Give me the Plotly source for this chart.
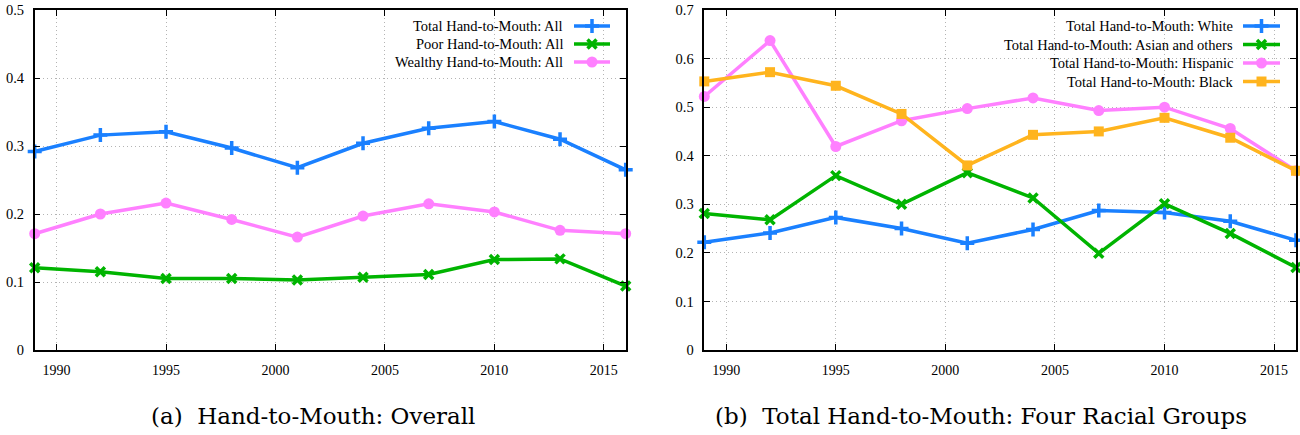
import plotly.graph_objects as go

# ---------------- data ----------------
years = [1989, 1992, 1995, 1998, 2001, 2004, 2007, 2010, 2013, 2016]

total_all = [0.292, 0.316, 0.321, 0.297, 0.268, 0.304, 0.326, 0.336, 0.310, 0.265]
poor_all = [0.121, 0.115, 0.105, 0.105, 0.103, 0.107, 0.111, 0.133, 0.134, 0.094]
wealthy_all = [0.171, 0.200, 0.216, 0.192, 0.166, 0.197, 0.215, 0.203, 0.176, 0.171]

white = [0.222, 0.241, 0.273, 0.250, 0.220, 0.248, 0.287, 0.283, 0.265, 0.226]
asian = [0.281, 0.268, 0.359, 0.300, 0.365, 0.313, 0.199, 0.301, 0.240, 0.170]
hispanic = [0.522, 0.637, 0.419, 0.472, 0.497, 0.519, 0.493, 0.500, 0.456, 0.369]
black = [0.553, 0.572, 0.544, 0.486, 0.380, 0.443, 0.450, 0.478, 0.437, 0.369]

x_ticks = [1990, 1995, 2000, 2005, 2010, 2015]

left_names = ["Total Hand-to-Mouth: All", "Poor Hand-to-Mouth: All",
              "Wealthy Hand-to-Mouth: All"]
right_names = ["Total Hand-to-Mouth: White", "Total Hand-to-Mouth: Asian and others",
               "Total Hand-to-Mouth: Hispanic", "Total Hand-to-Mouth: Black"]
captions = ["(a)\u00a0 Hand-to-Mouth: Overall",
            "(b)\u00a0 Total Hand-to-Mouth: Four Racial Groups"]

# ---------------- styles ----------------
W, H = 1300, 435
BLUE, GREEN, PINK, ORANGE = "#1a80ff", "#00b400", "#ff80ff", "#ffb41e"
SERIF = "Liberation Serif"
CAPFONT = "DejaVu Serif"
LW = 3.5
GRID = dict(showgrid=True, gridcolor="#b4b4b4", griddash="1px,3px", gridwidth=1)

def marker(kind, color):
    if kind == "plus":
        return dict(symbol="cross-thin", size=10, color=color, line=dict(width=3.5, color=color))
    if kind == "x":
        return dict(symbol="x-thin", size=9, color=color, line=dict(width=3.5, color=color))
    if kind == "circle":
        return dict(symbol="circle", size=11, color=color, line=dict(width=0))
    return dict(symbol="square", size=10, color=color, line=dict(width=0))

left_series = [(total_all, BLUE, "plus"), (poor_all, GREEN, "x"), (wealthy_all, PINK, "circle")]
right_series = [(white, BLUE, "plus"), (asian, GREEN, "x"),
                (hispanic, PINK, "circle"), (black, ORANGE, "square")]

fig = go.Figure()

for (vals, col, mk), name in zip(left_series, left_names):
    fig.add_trace(go.Scatter(x=years, y=vals, mode="lines+markers", name=name,
                             line=dict(color=col, width=LW), marker=marker(mk, col),
                             cliponaxis=False, xaxis="x", yaxis="y", showlegend=False))
for (vals, col, mk), name in zip(right_series, right_names):
    fig.add_trace(go.Scatter(x=years, y=vals, mode="lines+markers", name=name,
                             line=dict(color=col, width=LW), marker=marker(mk, col),
                             cliponaxis=False, xaxis="x2", yaxis="y2", showlegend=False))

# ---------------- legend (drawn in a pixel overlay axis) ----------------
legend_specs = [
    # text right edge, sample x0, sample x1, row y positions
    (565, 574, 610, [26, 44, 62], left_series, left_names),
    (1235, 1243, 1280, [26, 44.5, 63, 81.5], right_series, right_names),
]
annotations = []
for tx, sx0, sx1, rows, series, names in legend_specs:
    for (vals, col, mk), name, ry in zip(series, names, rows):
        fig.add_trace(go.Scatter(x=[sx0, sx1], y=[ry, ry], mode="lines",
                                 line=dict(color=col, width=LW), xaxis="x3", yaxis="y3",
                                 showlegend=False, hoverinfo="skip", cliponaxis=False))
        fig.add_trace(go.Scatter(x=[(sx0 + sx1) / 2], y=[ry], mode="markers",
                                 marker=marker(mk, col), xaxis="x3", yaxis="y3",
                                 showlegend=False, hoverinfo="skip", cliponaxis=False))
        annotations.append(dict(x=tx / W, y=1 - ry / H, xref="paper", yref="paper",
                                text=name, showarrow=False, xanchor="right", yanchor="middle",
                                font=dict(family=SERIF, size=14.5, color="black")))

annotations.append(dict(x=149 / W, y=1 - 416 / H, xref="paper", yref="paper", text=captions[0],
                        showarrow=False, xanchor="left", yanchor="middle",
                        font=dict(family=CAPFONT, size=23, color="black")))
annotations.append(dict(x=713 / W, y=1 - 416 / H, xref="paper", yref="paper", text=captions[1],
                        showarrow=False, xanchor="left", yanchor="middle",
                        font=dict(family=CAPFONT, size=23, color="black")))

def xax(domain):
    return dict(domain=domain, range=[1989, 2016], tickvals=x_ticks, ticks="inside",
                ticklen=6, tickwidth=1.3, tickcolor="black", showline=True, linecolor="black",
                linewidth=1.5, mirror="ticks", zeroline=False, automargin=False,
                tickfont=dict(family=SERIF, size=14, color="black"), ticklabelstandoff=6,
                **GRID)

def yax(domain, top):
    return dict(domain=domain, range=[0, top], dtick=0.1, tick0=0, ticks="inside",
                ticklen=6, tickwidth=1.3, tickcolor="black", showline=True, linecolor="black",
                linewidth=1.5, mirror="ticks", zeroline=False, automargin=False,
                tickfont=dict(family=SERIF, size=14.5, color="black"), ticklabelstandoff=6,
                **GRID)

ydom = [(H - 350) / H, (H - 10) / H]
fig.update_layout(
    template="none",
    width=W, height=H, autosize=False,
    margin=dict(l=0, r=0, t=0, b=0, pad=0),
    font=dict(family=SERIF, color="black"),
    paper_bgcolor="white", plot_bgcolor="rgba(0,0,0,0)",
    xaxis=dict(xax([34.7 / W, 625.7 / W]), anchor="y"),
    yaxis=dict(yax(ydom, 0.5), anchor="x"),
    xaxis2=dict(xax([704.3 / W, 1296 / W]), anchor="y2"),
    yaxis2=dict(yax(ydom, 0.7), anchor="x2"),
    xaxis3=dict(domain=[0, 1], range=[0, W], visible=False, anchor="y3",
                fixedrange=True, automargin=False),
    yaxis3=dict(domain=[0, 1], range=[H, 0], visible=False, anchor="x3",
                fixedrange=True, automargin=False),
    annotations=annotations,
    showlegend=False,
)

fig.write_html("out.html", config={"displayModeBar": False},
               post_script="document.body.style.margin='0';")
